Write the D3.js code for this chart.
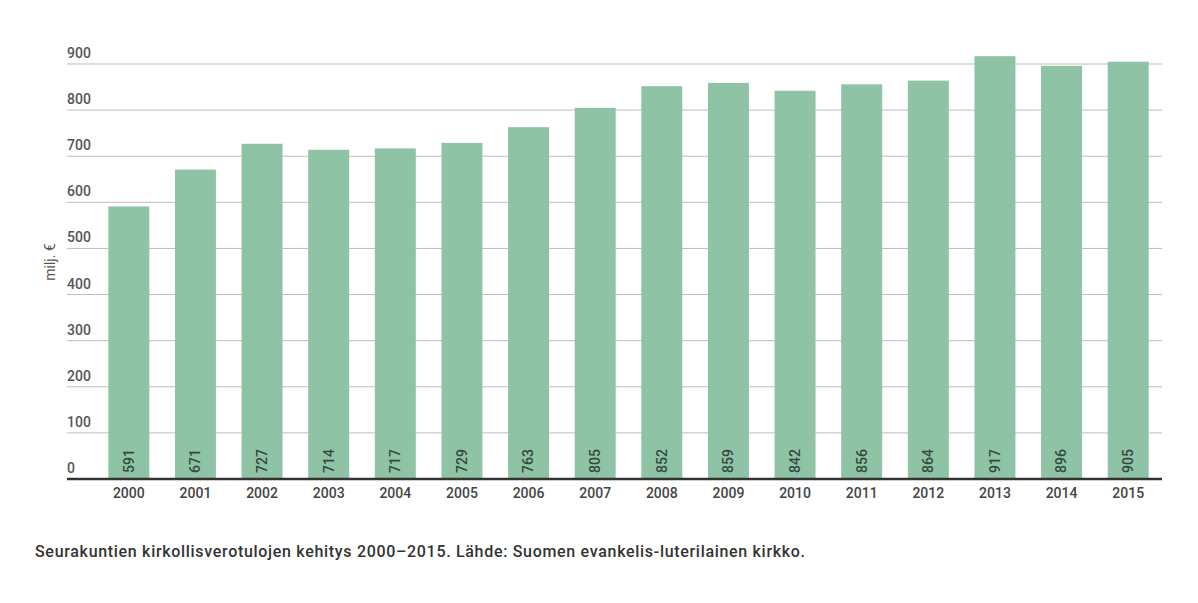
<!DOCTYPE html>
<html><head><meta charset="utf-8">
<script src="https://cdn.jsdelivr.net/npm/d3@7"></script>
<style>body{margin:0;background:#fff;font-family:Roboto,sans-serif}</style>
</head><body><svg id="c" width="1198" height="603"></svg>
<script>
const years = ["2000","2001","2002","2003","2004","2005","2006","2007","2008","2009","2010","2011","2012","2013","2014","2015"];
const values = [591,671,727,714,717,729,763,805,852,859,842,856,864,917,896,905];
const yTicks = [0,100,200,300,400,500,600,700,800,900];
const svg = d3.select("#c");
const x = d3.scaleBand().domain(years).range([95,1162]).paddingInner(0.385).paddingOuter(0.2);
const y = d3.scaleLinear().domain([0,900]).range([479,64]);
const g = svg.append("g");
g.selectAll(".grid").data(yTicks.filter(d=>d>0)).join("line")
 .attr("x1",67).attr("x2",1162).attr("y1",d=>y(d)).attr("y2",d=>y(d))
 .attr("stroke","#bdbdbd").attr("stroke-width",1);
g.selectAll(".tl").data(yTicks).join("text")
 .attr("x",67).attr("y",d=>y(d)-6).text(d=>d)
 .attr("font-size",14).attr("fill","#555").attr("font-weight",500);
g.selectAll("rect").data(values).join("rect")
 .attr("x",(d,i)=>x(years[i])).attr("width",x.bandwidth())
 .attr("y",d=>y(d)).attr("height",d=>y(0)-y(d)).attr("fill","#8fc3a6");
g.selectAll(".vl").data(values).join("text")
 .attr("transform",(d,i)=>`translate(${x(years[i])+x.bandwidth()/2},473) rotate(-90)`)
 .attr("text-anchor","start").attr("dy","0.35em").text(d=>d)
 .attr("font-size",14).attr("fill","#354a3e").attr("font-weight",500);
g.append("line").attr("x1",67).attr("x2",1162).attr("y1",y(0)).attr("y2",y(0)).attr("stroke","#333").attr("stroke-width",2.5);
g.selectAll(".xl").data(years).join("text")
 .attr("x",d=>x(d)+x.bandwidth()/2).attr("y",498).attr("text-anchor","middle").text(d=>d)
 .attr("font-size",14).attr("fill","#444").attr("font-weight",500);
svg.append("text").attr("transform","translate(55,262) rotate(-90)").attr("text-anchor","middle")
 .text("milj. €").attr("font-size",14).attr("fill","#555");
svg.append("text").attr("x",35).attr("y",557).text("Seurakuntien kirkollisverotulojen kehitys 2000–2015. Lähde: Suomen evankelis-luterilainen kirkko.")
 .attr("font-size",16).attr("font-weight",500).attr("fill","#333")
 .attr("textLength",770).attr("lengthAdjust","spacing");
</script></body></html>
